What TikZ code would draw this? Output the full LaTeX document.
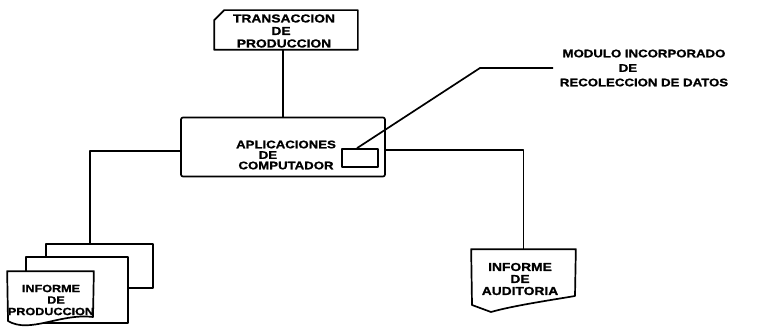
\documentclass[tikz,border=0pt]{standalone}
\usepackage{fontspec}
\setmainfont{Liberation Sans}[FakeStretch=1.2,BoldFeatures={FakeBold=1.2}]
\begin{document}
\begin{tikzpicture}[x=1pt,y=-1pt,line width=1.7pt,line join=round,
  lbl/.style={font=\bfseries\fontsize{11}{11.5}\selectfont,align=center,inner sep=0pt},
  shapebox/.style={inner sep=0pt,draw=none}]
\useasboundingbox[fill=white] (0,0) rectangle (760,329);

% --- top card: TRANSACCION DE PRODUCCION
\node[shapebox,minimum width=142pt,minimum height=38pt] (trans) at (286,30) {};
\draw (trans.north west) ++(0,10) -- ++(10,-10) -- (trans.north east) -- (trans.south east) -- (trans.south west) -- cycle;
\node[lbl,font=\bfseries\fontsize{11.5}{12.5}\selectfont] (transtxt) at (284,31) {TRANSACCION\\\mbox{DE\hspace{6pt}}\\PRODUCCION};

% --- main box
\node[draw,rounded corners=2pt,minimum width=204pt,minimum height=59pt,inner sep=0pt] (app) at (283,147) {};
\node[lbl,font=\bfseries\fontsize{11}{10.5}\selectfont] (apptxt) at (286,155) {APLICACIONES\\\mbox{DE\hspace{36pt}}\\COMPUTADOR};
\node[draw,minimum width=36pt,minimum height=18pt,inner sep=0pt] (mod) at (360,158) {};

% --- module label
\node[lbl,font=\bfseries\fontsize{11}{14.5}\selectfont] (modlbl) at (644,68) {MODULO INCORPORADO\\\mbox{DE\hspace{32pt}}\\RECOLECCION DE DATOS};
\coordinate (bend) at (480,68);
\coordinate (lend) at (553,68);
\draw ([xshift=-3pt]mod.north) -- (bend) -- (lend);

% --- stacked production reports
\node[shapebox,minimum width=105pt,minimum height=42pt] (back) at (99.5,266) {};
\draw[fill=white] (back.north west) rectangle (back.south east);
\node[shapebox,minimum width=100pt,minimum height=64pt] (mid) at (77,290) {};
\draw[fill=white] (mid.north west) rectangle (mid.south east);
\node[shapebox,minimum width=85pt,minimum height=48pt] (front) at (50.5,296) {};
\draw[fill=white] (front.north west) -- (front.north east) -- (93,317)
  .. controls (60,313) and (30,334) .. (8,321) -- cycle;
\node[lbl,font=\bfseries\fontsize{10.5}{11.5}\selectfont] (prodtxt) at (51,300) {INFORME\\\mbox{\hspace{10pt}DE}\\PRODUCCION};

% --- audit report
\node[shapebox,minimum width=103pt,minimum height=55pt] (aud) at (523.5,277.5) {};
\draw (aud.north west) -- (aud.north east) -- (575,296)
  .. controls (545,301) and (512,306) .. (491,312) -- (472,305) -- cycle;
\node[lbl,font=\bfseries\fontsize{11.5}{12}\selectfont] (audtxt) at (520,279) {INFORME\\DE\\AUDITORIA};

% --- connectors
\draw (trans.south -| app.north) -- (app.north);
\coordinate (lcorner) at (90,151);
\draw ([yshift=-4pt]app.west) -- (lcorner) -- (lcorner |- back.north);
\draw ([yshift=-3pt]app.east) -- ([yshift=-3pt]app.east -| aud.north) -- (aud.north);
\end{tikzpicture}
\end{document}
